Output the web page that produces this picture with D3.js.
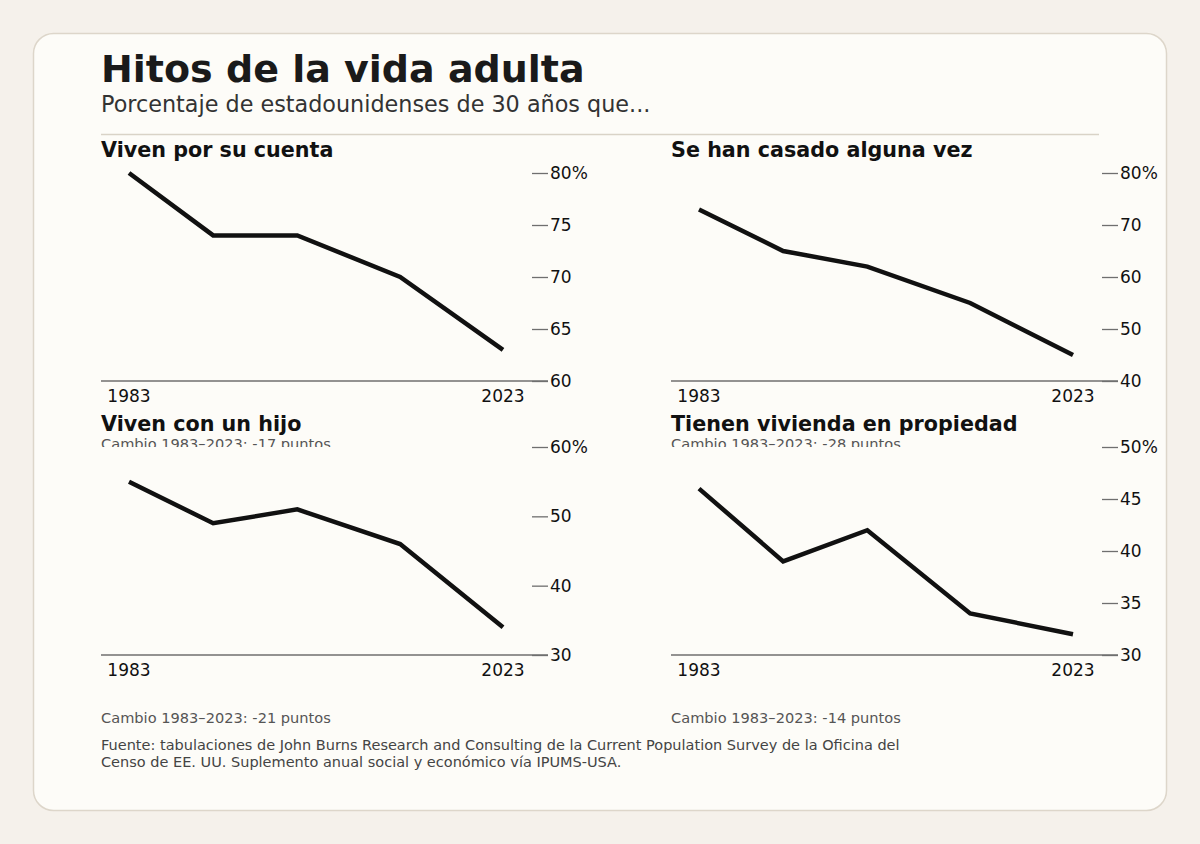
<!DOCTYPE html>
<html>
<head>
<meta charset="utf-8">
<script src="https://cdn.jsdelivr.net/npm/d3@7"></script>
<style>
  html, body { margin: 0; padding: 0; background: #f5f1eb; }
  svg { display: block; font-family: "DejaVu Sans", sans-serif; }
</style>
</head>
<body>
<div id="chart"></div>
<script>
// data
const years = [1983, 1992, 2001, 2012, 2023];
const panelTitles = ["Viven por su cuenta", "Se han casado alguna vez", "Viven con un hijo", "Tienen vivienda en propiedad"];
const livingOnOwn = [80, 74, 74, 70, 63];
const everMarried = [73, 65, 62, 55, 45];
const withChild = [55, 49, 51, 46, 34];
const ownHome = [46, 39, 42, 34, 32];
const ticksOwn = [60, 65, 70, 75, 80];
const ticksMarried = [40, 50, 60, 70, 80];
const ticksChild = [30, 40, 50, 60];
const ticksHome = [30, 35, 40, 45, 50];
const yearLabels = [1983, 2023];

const W = 1200, H = 844;
const svg = d3.select("#chart").append("svg")
    .attr("width", W)
    .attr("height", H);

svg.append("rect").attr("width", W).attr("height", H).attr("fill", "#f5f1eb");
svg.append("rect")
    .attr("x", 33.5).attr("y", 33.5)
    .attr("width", 1133).attr("height", 777)
    .attr("rx", 20)
    .attr("fill", "#fdfcf8")
    .attr("stroke", "#ddd6ca")
    .attr("stroke-width", 1.5);

svg.append("text")
    .attr("x", 101).attr("y", 82)
    .style("font-size", "38px").style("font-weight", "bold")
    .attr("fill", "#1a1a1a")
    .text("Hitos de la vida adulta");

svg.append("text")
    .attr("x", 101).attr("y", 112)
    .style("font-size", "22.3px")
    .attr("fill", "#333")
    .text("Porcentaje de estadounidenses de 30 años que...");

svg.append("line")
    .attr("x1", 101).attr("x2", 1099)
    .attr("y1", 134.5).attr("y2", 134.5)
    .attr("stroke", "#d9d3c7").attr("stroke-width", 1.5);

const panels = [
    {title: panelTitles[0], values: livingOnOwn, ticks: ticksOwn, left: 101, top: 173},
    {title: panelTitles[1], values: everMarried, ticks: ticksMarried, left: 671, top: 173},
    {title: panelTitles[2], values: withChild, ticks: ticksChild, left: 101, top: 447},
    {title: panelTitles[3], values: ownHome, ticks: ticksHome, left: 671, top: 447}
];

const pw = 447, ph = 208;

panels.forEach((p, i) => {
    const g = svg.append("g").attr("transform", `translate(${p.left},${p.top})`);

    // bottom panels sit on top of the notes from the row above
    if (i >= 2) {
        g.append("rect")
            .attr("x", -5).attr("y", 0)
            .attr("width", pw + 45).attr("height", ph + 20)
            .attr("fill", "#fdfcf8");
    }

    g.append("text")
        .attr("x", 0).attr("y", -16)
        .style("font-size", "20.7px").style("font-weight", "bold")
        .attr("fill", "#111")
        .text(p.title);

    const x = d3.scaleLinear()
        .domain([1983, 2023])
        .range([28, 402]);

    const y = d3.scaleLinear()
        .domain(d3.extent(p.ticks))
        .range([ph, 0]);

    const yAxis = d3.axisRight(y)
        .tickValues(p.ticks)
        .tickSize(-16)
        .tickPadding(2)
        .tickFormat(d => d === d3.max(p.ticks) ? d + "%" : d);

    const ya = g.append("g")
        .attr("transform", `translate(${pw},0)`)
        .call(yAxis);
    ya.select(".domain").remove();
    ya.selectAll(".tick line").attr("stroke", "#6f6f6f").attr("stroke-width", 1.3);
    ya.selectAll(".tick text")
        .attr("fill", "#111")
        .style("font-size", "17px")
        .style("font-family", "DejaVu Sans, sans-serif");

    g.append("line")
        .attr("x1", 0).attr("x2", pw)
        .attr("y1", ph).attr("y2", ph)
        .attr("stroke", "#6f6f6f").attr("stroke-width", 1.5);

    g.selectAll(".yr")
        .data(yearLabels)
        .enter()
        .append("text")
        .attr("x", d => x(d))
        .attr("y", ph + 21)
        .attr("text-anchor", "middle")
        .style("font-size", "17px")
        .attr("fill", "#111")
        .text(d => d);

    const line = d3.line()
        .x((d, k) => x(years[k]))
        .y(d => y(d));

    g.append("path")
        .datum(p.values)
        .attr("d", line)
        .attr("fill", "none")
        .attr("stroke", "#111")
        .attr("stroke-width", 4.5)
        .attr("stroke-linejoin", "miter");

    const change = p.values[p.values.length - 1] - p.values[0];
    g.append("text")
        .attr("x", 0).attr("y", ph + 68)
        .style("font-size", "14.6px")
        .attr("fill", "#555")
        .text(`Cambio 1983–2023: ${change} puntos`);
});

const footer = [
    "Fuente: tabulaciones de John Burns Research and Consulting de la Current Population Survey de la Oficina del",
    "Censo de EE. UU. Suplemento anual social y económico vía IPUMS-USA."
];
svg.append("g").selectAll("text")
    .data(footer)
    .enter()
    .append("text")
    .attr("x", 101)
    .attr("y", (d, i) => 750 + i * 17)
    .style("font-size", "14.5px")
    .attr("fill", "#444")
    .text(d => d);
</script>
</body>
</html>
